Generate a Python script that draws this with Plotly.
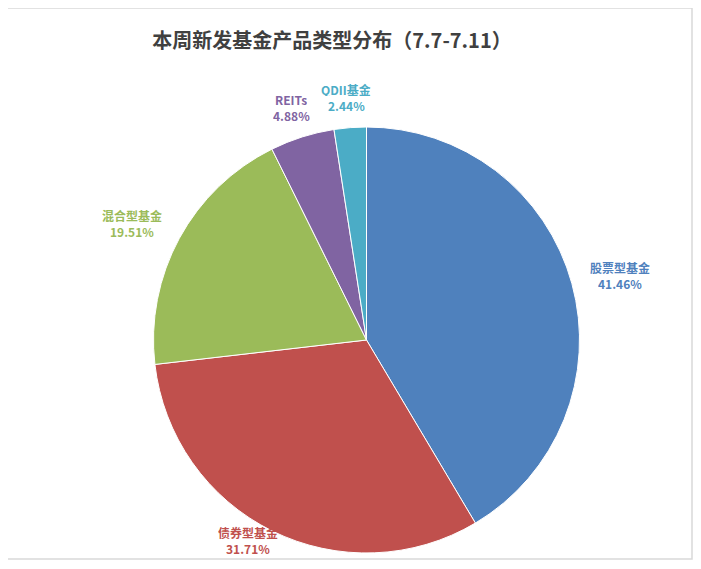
"""Weekly new fund launches by product type - pie chart."""
import plotly.graph_objects as go

# the browser page adds an 8px body margin, so the figure is a bit smaller
# than the window and all pixel positions below are window pixels
W, H = 701, 569
OFF = 8
FW, FH = W - OFF, H - OFF

# data ----------------------------------------------------------------------
categories = ["股票型基金", "债券型基金", "混合型基金", "REITs", "QDII基金"]
shares = [41.46, 31.71, 19.51, 4.88, 2.44]
colors = ["#4F81BD", "#C0504D", "#9BBB59", "#8064A2", "#4BACC6"]

TITLE = "本周新发基金产品类型分布（7.7-7.11）"

# where each slice label sits (window px, centre of the two-line block)
label_pos = [(620, 275), (248, 540), (132, 223), (291, 107), (346, 97)]


def px(x, y):
    """Window pixel -> paper coordinates."""
    return (x - OFF) / FW, 1 - (y - OFF) / FH


fig = go.Figure()
(dx0, dy1), (dx1, dy0) = px(153, 127), px(580, 553)
fig.add_trace(
    go.Pie(
        labels=categories,
        values=shares,
        sort=False,
        direction="clockwise",
        rotation=0,
        marker=dict(colors=colors, line=dict(color="white", width=1)),
        textinfo="none",
        showlegend=False,
        hoverinfo="label+percent",
        domain=dict(x=[dx0, dx1], y=[dy0, dy1]),
    )
)

# name on one line, percentage on the next (16px apart, as in the original)
for name, val, col, (lx, ly) in zip(categories, shares, colors, label_pos):
    for txt, dy in ((name, -8), (f"{val:.2f}%", 8)):
        ax, ay = px(lx, ly + dy)
        fig.add_annotation(
            x=ax, y=ay, xref="paper", yref="paper",
            xanchor="center", yanchor="middle",
            text=f"<b>{txt}</b>",
            showarrow=False, height=14, borderpad=0,
            font=dict(size=12, color=col, family="Noto Sans CJK SC"),
        )

# light grey frame around the chart area
(fx0, fy1), (fx1, fy0) = px(6, 8), px(692, 559)
fig.add_shape(
    type="rect", xref="paper", yref="paper",
    x0=fx0, x1=fx1, y0=fy0, y1=fy1,
    line=dict(color="#D9D9D9", width=1.5), fillcolor="rgba(0,0,0,0)",
)

tx, ty = px(332, 41)
fig.update_layout(
    width=FW,
    height=FH,
    margin=dict(l=0, r=0, t=0, b=0),
    paper_bgcolor="white",
    plot_bgcolor="white",
    title=dict(
        text="<b>" + TITLE + "</b>",
        x=tx, xanchor="center",
        y=ty, yanchor="middle",
        font=dict(size=20, color="#404040", family="Noto Sans CJK SC"),
    ),
)

fig.write_html("out.html")
